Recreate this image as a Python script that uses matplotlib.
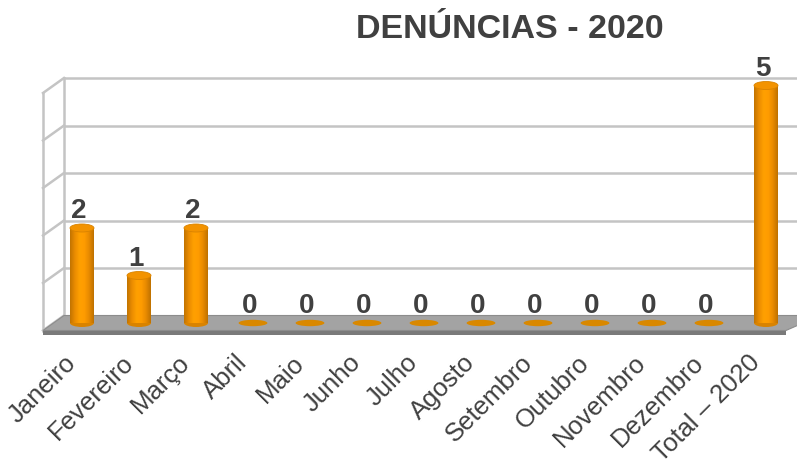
import matplotlib
matplotlib.use("Agg")
import matplotlib.pyplot as plt
import matplotlib.transforms as mtransforms
import numpy as np
from matplotlib.patches import Polygon, Ellipse
from matplotlib.colors import LinearSegmentedColormap

plt.rcParams['font.family'] = ['Liberation Sans', 'DejaVu Sans']

# data
meses = ['Janeiro', 'Fevereiro', 'Março', 'Abril', 'Maio', 'Junho', 'Julho',
         'Agosto', 'Setembro', 'Outubro', 'Novembro', 'Dezembro', 'Total – 2020']
denuncias = [2, 1, 2, 0, 0, 0, 0, 0, 0, 0, 0, 0, 5]
titulo = 'DENÚNCIAS - 2020'

TXT = '#404040'
W, H = 797, 471
fig = plt.figure(figsize=(W / 100, H / 100), dpi=100)

# axes placed so one category = 57px, one unit = 47.5px
x0, ppx = 82, 57.0
y0, ppy = 323, 47.5
xlim = (-0.75, 12.55)
ylim = (-0.25, 5.5)
left = (x0 + xlim[0] * ppx) / W
width = (xlim[1] - xlim[0]) * ppx / W
bottom = (H - (y0 - ylim[0] * ppy)) / H
height = (ylim[1] - ylim[0]) * ppy / H
ax = fig.add_axes([left, bottom, width, height])
ax.set_xlim(*xlim)
ax.set_ylim(*ylim)
for s in ax.spines.values():
    s.set_visible(False)
ax.set_yticks([])

# depth offsets (bar plane is the middle)
dx, dy = 10.5 / ppx, 7.5 / ppy
xl = -0.5
xr = 12.55
grid_c = '#c4c4c4'

# floor
floor = Polygon([(xl - dx, -dy), (xl + dx, dy), (xr + 0.4, dy), (xr - 0.2, -dy)],
                closed=True, fc='#a3a3a3', ec='#8c8c8c', lw=0.8, zorder=1, clip_on=False)
ax.add_patch(floor)
lip = Polygon([(xl - dx, -dy), (xr - 0.2, -dy), (xr - 0.2, -dy - 0.09), (xl - dx, -dy - 0.09)],
              closed=True, fc='#7a7a7a', ec='none', zorder=1, clip_on=False)
ax.add_patch(lip)

# back wall grid + side wall
vmax = 5
for v in range(0, vmax + 1):
    if v > 0:
        ax.plot([xl + dx, xr + 1], [v + dy, v + dy], color=grid_c, lw=1.8, zorder=0.5,
                clip_on=False, solid_capstyle='butt')
    ax.plot([xl - dx, xl + dx], [v - dy, v + dy], color=grid_c, lw=1.8, zorder=0.5, clip_on=False)
ax.plot([xl + dx, xl + dx], [dy, vmax + dy], color=grid_c, lw=1.8, zorder=0.5, clip_on=False)
ax.plot([xl - dx, xl - dx], [-dy, vmax - dy], color=grid_c, lw=1.8, zorder=0.5, clip_on=False)

# cylinders
x = np.arange(len(meses))
bw = 24 / ppx
eh = 8 / ppy
cmap = LinearSegmentedColormap.from_list(
    'cyl', ['#c27400', '#ea8c00', '#ffa000', '#ff9c00', '#e88a00', '#bf7200'])
grad = np.linspace(0, 1, 64).reshape(1, -1)
bars = ax.bar(x, denuncias, width=bw, color='#ff9900', lw=0, zorder=3)
for b, v in zip(bars, denuncias):
    cx = b.get_x() + b.get_width() / 2
    if v > 0:
        im = ax.imshow(grad, cmap=cmap, aspect='auto', zorder=3.1,
                       extent=(b.get_x(), b.get_x() + b.get_width(), 0, v))
        im.set_clip_path(b)
        ax.add_patch(Ellipse((cx, 0), bw, eh, fc='#d98300', ec='none', zorder=2.9))
        ax.add_patch(Ellipse((cx, v), bw, eh, fc='#f39300', ec='#d98300', lw=0.6, zorder=3.2))
    else:
        ax.add_patch(Ellipse((cx, 0), bw * 1.2, eh * 0.8, fc='#d98800', ec='none', zorder=3.2))
    ax.text(cx - 0.06, v + 0.21, str(v), ha='center', va='baseline', fontsize=20,
            fontweight='bold', color=TXT, zorder=4)
ax.set_xlim(*xlim)
ax.set_ylim(*ylim)

ax.set_xticks(x)
ax.set_xticklabels(meses, rotation=45, ha='right', rotation_mode='anchor',
                   fontsize=18.5, color=TXT)
ax.tick_params(axis='x', length=0, pad=12)
shift = mtransforms.ScaledTranslation(-18 / 100, 1 / 100, fig.dpi_scale_trans)
for lab in ax.get_xticklabels():
    lab.set_transform(lab.get_transform() + shift)

fig.text(510 / W, 1 - 38 / H, titulo, ha='center', va='baseline', fontsize=24.5,
         fontweight='bold', color=TXT)

fig.savefig('out.png', dpi=100)
